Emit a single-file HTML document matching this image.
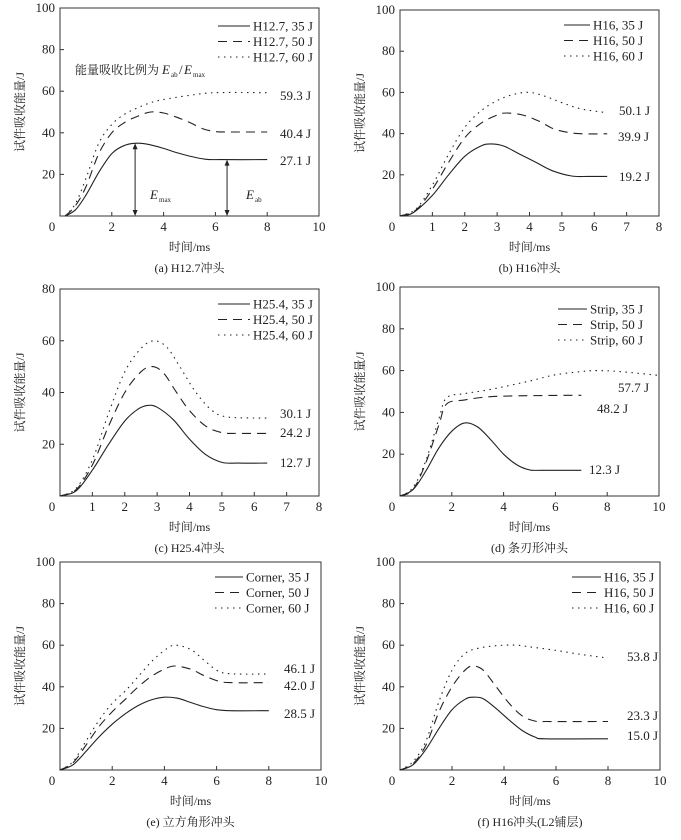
<!DOCTYPE html>
<html><head><meta charset="utf-8"><style>
html,body{margin:0;padding:0;background:#fff;}
svg text{font-family:"Liberation Serif","Noto Serif CJK SC","Noto Sans CJK SC",serif;fill:#222;}
</style></head><body>
<svg id="s" width="681" height="835" xmlns="http://www.w3.org/2000/svg"></svg>
<script>
const NS="http://www.w3.org/2000/svg";const S=document.getElementById('s');
function el(t,a,txt){const e=document.createElementNS(NS,t);for(const k in a)e.setAttribute(k,a[k]);if(txt!==undefined)e.textContent=txt;S.appendChild(e);return e;}
function cr(pts){let d="M"+pts[0][0].toFixed(1)+","+pts[0][1].toFixed(1);for(let i=0;i<pts.length-1;i++){const p0=pts[i-1]||pts[i],p1=pts[i],p2=pts[i+1],p3=pts[i+2]||p2;const c1=[p1[0]+(p2[0]-p0[0])/6,p1[1]+(p2[1]-p0[1])/6],c2=[p2[0]-(p3[0]-p1[0])/6,p2[1]-(p3[1]-p1[1])/6];d+=`C${c1[0].toFixed(1)},${c1[1].toFixed(1)} ${c2[0].toFixed(1)},${c2[1].toFixed(1)} ${p2[0].toFixed(1)},${p2[1].toFixed(1)}`;}return d;}
const styles=[{},{"stroke-dasharray":"9,6"},{"stroke-dasharray":"1.5,4.5"}];
function panel(P){
 const {x0,y0,x1,y1,xmax,ymax,xstep,ystep}=P;
 const X=v=>x0+(x1-x0)*v/xmax,Y=v=>y1-(y1-y0)*v/ymax;
 el('rect',{x:x0,y:y0,width:x1-x0,height:y1-y0,fill:'none',stroke:'#333','stroke-width':1});
 for(let v=xstep;v<xmax;v+=xstep){el('line',{x1:X(v),x2:X(v),y1:y1,y2:y1-4,stroke:'#333'});}
 for(let v=ystep;v<ymax;v+=ystep){el('line',{x1:x0,x2:x0+4,y1:Y(v),y2:Y(v),stroke:'#333'});}
 for(let v=0;v<=xmax;v+=xstep)el('text',{x:X(v)-(v==0?8:0),y:y1+15,'font-size':13,'text-anchor':'middle'},v);
 for(let v=ystep;v<=ymax;v+=ystep)el('text',{x:x0-5,y:Y(v)+4,'font-size':13,'text-anchor':'end'},v);
 const cx=(x0+x1)/2;
 el('text',{x:cx,y:y1+35,'font-size':12,'text-anchor':'middle'},'时间/ms');
 el('text',{x:cx,y:y1+56,'font-size':12,'text-anchor':'middle'},P.cap);
 const ly=(y0+y1)/2;el('text',{x:0,y:0,'font-size':12,'text-anchor':'middle',transform:`translate(${x0-36},${ly}) rotate(-90)`},'试件吸收能量/J');
 P.series.forEach((s,i)=>{el('path',Object.assign({d:cr(s.map(p=>[X(p[0]),Y(p[1])])),fill:'none',stroke:'#222','stroke-width':1.1},styles[i]));});
 P.leg.forEach((t,i)=>{const yy=P.lg[2]+i*15.5;el('line',Object.assign({x1:P.lg[0],x2:P.lg[1],y1:yy,y2:yy,stroke:'#222','stroke-width':1.1},styles[i]));el('text',{x:P.lg[1]+3,y:yy+4.5,'font-size':13},t);});
 P.ends.forEach(e=>el('text',{x:e[0],y:e[1],'font-size':13},e[2]));
 return {X,Y};
}
const A=panel({x0:60,y0:8,x1:319,y1:216,xmax:10,ymax:100,xstep:2,ystep:20,cap:'(a) H12.7冲头',
series:[[[0.2,0],[0.6,3],[1,10],[1.5,21],[2,30],[2.5,34],[3,35],[3.5,34.2],[4,32.5],[4.5,30.5],[5,28.8],[5.6,27.3],[6.2,27.1],[8,27.1]],
[[0.2,0],[0.6,5],[1,14],[1.5,30],[2,40],[2.5,45],[3,48],[3.5,50],[4,49.5],[4.5,47.5],[5,45],[5.5,42],[6,40.6],[6.5,40.4],[8,40.4]],
[[0.2,0],[0.6,6],[1,18],[1.5,35],[2,44],[2.5,49],[3,52],[3.5,54.5],[4,56],[5,58],[6,59.3],[8,59.3]]],
leg:['H12.7, 35 J','H12.7, 50 J','H12.7, 60 J'],lg:[218,250,26],
ends:[[280,100,'59.3 J'],[280,138,'40.4 J'],[280,165,'27.1 J']]});
[[2.9,35],[6.45,27.1]].forEach(a=>{const x=A.X(a[0]),yt=A.Y(a[1]),yb=A.Y(0);el('line',{x1:x,x2:x,y1:yt+3,y2:yb-3,stroke:'#222'});el('path',{d:`M${x-2.5},${yt+6}L${x},${yt}L${x+2.5},${yt+6}Z M${x-2.5},${yb-6}L${x},${yb}L${x+2.5},${yb-6}Z`,fill:'#222'});});
el('text',{x:150,y:199,'font-size':13,'font-style':'italic'},'E');el('text',{x:159,y:202,'font-size':7},'max');
el('text',{x:246,y:199,'font-size':13,'font-style':'italic'},'E');el('text',{x:255,y:202,'font-size':7},'ab');
el('text',{x:75,y:74,'font-size':12},'能量吸收比例为');
el('text',{x:162,y:74,'font-size':13,'font-style':'italic'},'E');el('text',{x:171,y:77,'font-size':7},'ab');el('text',{x:179,y:74,'font-size':13},'/');el('text',{x:184,y:74,'font-size':13,'font-style':'italic'},'E');el('text',{x:193,y:77,'font-size':7},'max');
panel({x0:400,y0:10,x1:659,y1:216,xmax:8,ymax:100,xstep:1,ystep:20,cap:'(b) H16冲头',
series:[[[0,0],[0.4,1.5],[1,10],[1.5,20],[2,29],[2.5,34],[2.8,35],[3.2,34],[3.7,30],[4.2,26],[4.7,22],[5.3,19.4],[5.8,19.2],[6.4,19.2]],
[[0,0],[0.5,3],[1,13],[1.5,26],[2,38],[2.5,45],[3,49],[3.3,50],[3.8,49],[4.3,46],[4.8,42],[5.5,40],[6.4,39.9]],
[[0,0],[0.5,3.5],[1,15],[1.5,30],[2,43],[2.5,51],[3,56],[3.5,59],[4,60],[4.5,58],[5,55],[5.6,52],[6.4,50.1]]],
leg:['H16, 35 J','H16, 50 J','H16, 60 J'],lg:[564,590,25],
ends:[[619,115,'50.1 J'],[618,141,'39.9 J'],[619,181,'19.2 J']]});
panel({x0:60,y0:289,x1:319,y1:496,xmax:8,ymax:80,xstep:1,ystep:20,cap:'(c) H25.4冲头',
series:[[[0,0],[0.5,2],[1,10],[1.5,20],[2,29],[2.4,33.5],[2.7,35],[3,34.3],[3.5,29.5],[4,22],[4.5,16],[5,13],[5.5,12.7],[6.4,12.7]],
[[0,0],[0.5,2.5],[1,12],[1.5,27],[2,40],[2.5,48],[2.85,50],[3.2,47.5],[3.6,40],[4,33],[4.5,27],[5,24.5],[5.5,24.2],[6.4,24.2]],
[[0,0],[0.5,3],[1,14],[1.5,32],[2,48],[2.5,57],[2.9,60],[3.3,57.5],[3.7,50],[4.2,40],[4.7,33],[5.2,30.5],[6.4,30.1]]],
leg:['H25.4, 35 J','H25.4, 50 J','H25.4, 60 J'],lg:[218,250,304],
ends:[[280,418,'30.1 J'],[280,437,'24.2 J'],[280,467,'12.7 J']]});
panel({x0:400,y0:287,x1:659,y1:496,xmax:10,ymax:100,xstep:2,ystep:20,cap:'(d) 条刃形冲头',
series:[[[0,0],[0.5,3],[1,12],[1.5,23],[2,31],[2.5,35],[3,33],[3.5,27],[4,20],[4.5,15],[5,12.5],[5.5,12.3],[7,12.3]],
[[0,0],[0.5,3],[1,16],[1.5,34],[1.8,44],[2.5,46],[3.5,47.5],[5,48],[7,48.2]],
[[0,0],[0.5,4],[1,17],[1.5,37],[1.8,47],[2.5,49],[3.5,51],[5,55],[6,58],[7,59.5],[7.6,60],[8.5,59.5],[10,57.7]]],
leg:['Strip, 35 J','Strip, 50 J','Strip, 60 J'],lg:[558,587,309],
ends:[[618,392,'57.7 J'],[597,413,'48.2 J'],[589,474,'12.3 J']]});
panel({x0:60,y0:562,x1:321,y1:770,xmax:10,ymax:100,xstep:2,ystep:20,cap:'(e) 立方角形冲头',
series:[[[0,0],[0.5,2.5],[1,9],[1.5,16],[2,22],[2.5,27],[3,31],[3.5,33.7],[4,35],[4.5,34.5],[5,32.5],[5.5,30.5],[6,29],[6.5,28.5],[8,28.5]],
[[0,0],[0.5,3.5],[1,12],[1.5,21],[2,28],[2.5,34],[3,40],[3.5,45],[4,48.5],[4.4,50],[5,48.5],[5.5,45.5],[6,43],[6.5,42],[8,42]],
[[0,0],[0.5,4],[1,14],[1.5,24],[2,32],[2.5,38],[3,45],[3.5,52],[4,57.5],[4.4,60],[5,58],[5.5,53],[6,48],[6.5,46.3],[8,46.1]]],
leg:['Corner, 35 J','Corner, 50 J','Corner, 60 J'],lg:[215,243,577],
ends:[[284,673,'46.1 J'],[284,690,'42.0 J'],[284,718,'28.5 J']]});
panel({x0:400,y0:562,x1:660,y1:770,xmax:10,ymax:100,xstep:2,ystep:20,cap:'(f) H16冲头(L2铺层)',
series:[[[0,0],[0.5,2.5],[1,10],[1.5,20],[2,29],[2.5,34],[2.8,35],[3.2,34.3],[3.7,29.5],[4.2,24],[4.7,19],[5.2,15.8],[5.6,15],[8,15]],
[[0,0],[0.5,3],[1,12],[1.5,28],[2,40],[2.5,48],[2.8,50],[3.2,48],[3.7,40],[4.2,32],[4.7,26],[5.2,23.5],[5.6,23.3],[8,23.3]],
[[0,0],[0.5,4],[1,14],[1.5,33],[2,48],[2.5,56],[3,58.5],[3.5,59.5],[4,60],[4.5,60],[5,59.2],[6,57.5],[7,55.5],[8,53.8]]],
leg:['H16, 35 J','H16, 50 J','H16, 60 J'],lg:[572,601,577],
ends:[[627,661,'53.8 J'],[627,720,'23.3 J'],[627,740,'15.0 J']]});
</script>
</body></html>
